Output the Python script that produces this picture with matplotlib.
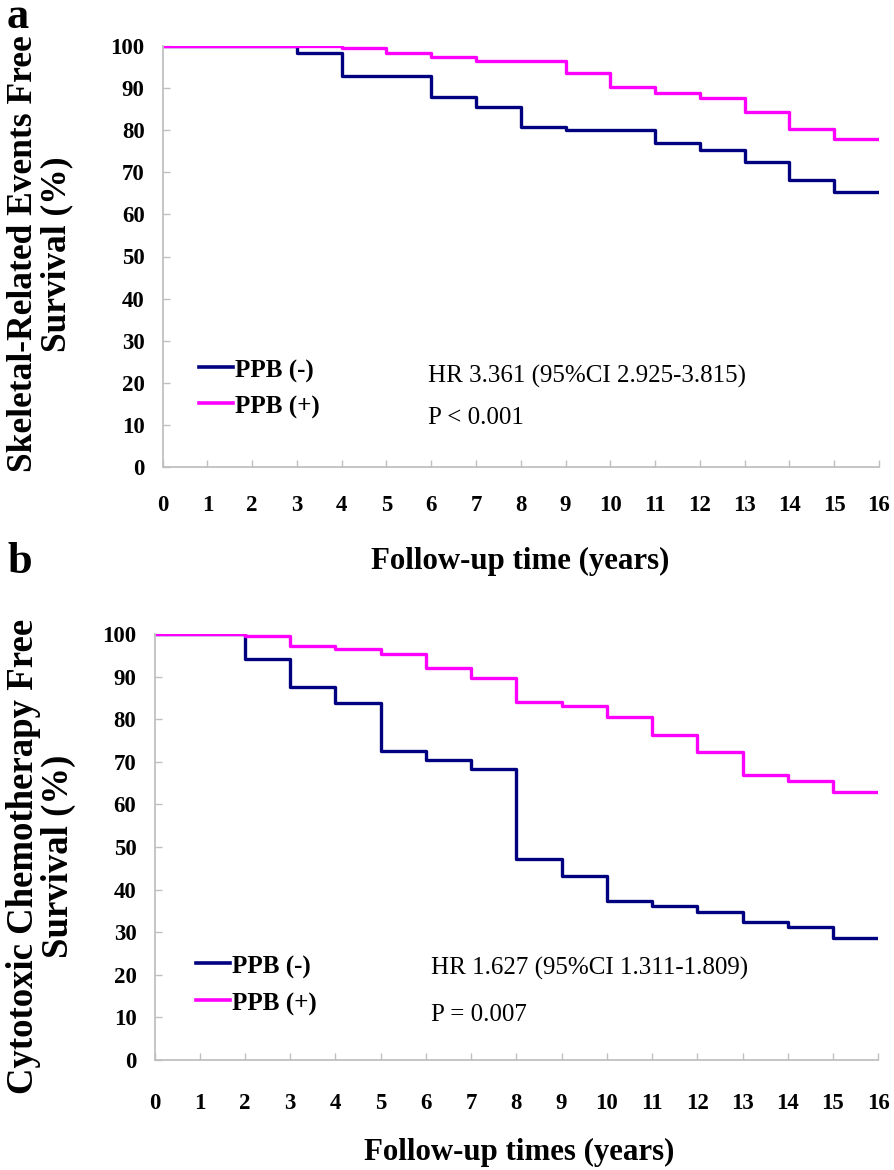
import matplotlib
matplotlib.use('Agg')
import matplotlib.pyplot as plt

plt.rcParams['font.family'] = ['Liberation Serif', 'DejaVu Serif']

# follow-up years (step edges) and survival level for each one-year interval
years = list(range(0, 17))

a_neg = [100, 100, 100, 98.4, 92.9, 92.9, 88.0, 85.4, 80.8, 80.0, 80.0, 76.9, 75.4, 72.5, 68.2, 65.4]
a_pos = [100, 100, 100, 100, 99.6, 98.3, 97.5, 96.4, 96.4, 93.5, 90.3, 88.9, 87.6, 84.3, 80.2, 77.8]

b_neg = [100, 100, 94.1, 87.5, 83.7, 72.5, 70.4, 68.3, 47.3, 43.3, 37.4, 36.2, 34.7, 32.5, 31.3, 28.6]
b_pos = [100, 100, 99.6, 97.2, 96.5, 95.3, 92.0, 89.7, 84.1, 83.1, 80.6, 76.4, 72.3, 66.9, 65.6, 62.8]

series_names = ['PPB (-)', 'PPB (+)']
yticks = list(range(0, 101, 10))
xticks = list(range(0, 17))

a_ylabel = 'Skeletal-Related Events Free\nSurvival (%)'
b_ylabel = 'Cytotoxic Chemotherapy Free\nSurvival (%)'
a_xlabel = 'Follow-up time (years)'
b_xlabel = 'Follow-up times (years)'
a_stats = ['HR 3.361 (95%CI 2.925-3.815)', 'P < 0.001']
b_stats = ['HR 1.627 (95%CI 1.311-1.809)', 'P = 0.007']

NAVY = '#000080'
MAG = '#FF00FF'
GRAY = '#c0c0c0'

W, H = 894, 1170
fig = plt.figure(figsize=(W / 100, H / 100), dpi=100)


def px_axes(l, r, t, b):
    return fig.add_axes([l / W, 1 - b / H, (r - l) / W, (b - t) / H])


def draw(ax, neg, pos, xpad, stats, leg_x, leg_y, txt_x, txt_y):
    ax.step(years, neg + [neg[-1]], where='post', color=NAVY, lw=2.4)
    ax.step(years, pos + [pos[-1]], where='post', color=MAG, lw=2.4)
    ax.set_xlim(0, 16)
    ax.set_ylim(0, 100)
    for s in ['top', 'right']:
        ax.spines[s].set_visible(False)
    for s in ['left', 'bottom']:
        ax.spines[s].set_color(GRAY)
        ax.spines[s].set_linewidth(1.3)
    ax.set_xticks(xticks)
    ax.set_yticks(yticks)
    ax.tick_params(axis='both', direction='in', length=5, color=GRAY, width=1)
    ax.tick_params(axis='x', pad=xpad)
    ax.tick_params(axis='y', pad=13)
    for lab in ax.get_xticklabels() + ax.get_yticklabels():
        lab.set_fontweight('bold')
        lab.set_fontsize(16.5)
    # legend drawn by hand, like the original
    for i, (name, col) in enumerate(zip(series_names, [NAVY, MAG])):
        y = leg_y[i]
        ax.plot([leg_x, leg_x + 0.75], [y, y], color=col, lw=2.6, clip_on=False)
        ax.text(leg_x + 0.8, y - 1.0, name, fontsize=18, fontweight='bold',
                ha='left', va='center')
    for i, s in enumerate(stats):
        ax.text(txt_x, txt_y[i], s, fontsize=18, ha='left', va='center')


ax1 = px_axes(162.7, 878.8, 46, 467)
draw(ax1, a_neg, a_pos, 20, a_stats, 0.82, [23.8, 15.2], 5.93, [21.4, 11.6])
ax2 = px_axes(154.5, 878.2, 634, 1060)
draw(ax2, b_neg, b_pos, 24, b_stats, 0.92, [22.7, 14.0], 6.12, [21.6, 10.6])

fig.text(40 / W, 1 - 254 / H, a_ylabel, rotation=90, ha='center', va='center',
         fontsize=25.5, fontweight='bold', linespacing=1.0, multialignment='center')
fig.text(41 / W, 1 - 856 / H, b_ylabel, rotation=90, ha='center', va='center',
         fontsize=26.5, fontweight='bold', linespacing=0.97, multialignment='center')

fig.text(520 / W, 1 - 561 / H, a_xlabel, ha='center', va='center',
         fontsize=22.2, fontweight='bold')
fig.text(519 / W, 1 - 1152 / H, b_xlabel, ha='center', va='center',
         fontsize=22.2, fontweight='bold')

fig.text(7 / W, 1 - 28 / H, 'a', ha='left', va='baseline', fontsize=32, fontweight='bold')
fig.text(7 / W, 1 - 573 / H, 'b', ha='left', va='baseline', fontsize=32, fontweight='bold')

fig.savefig('out.png', dpi=100, facecolor='white')
